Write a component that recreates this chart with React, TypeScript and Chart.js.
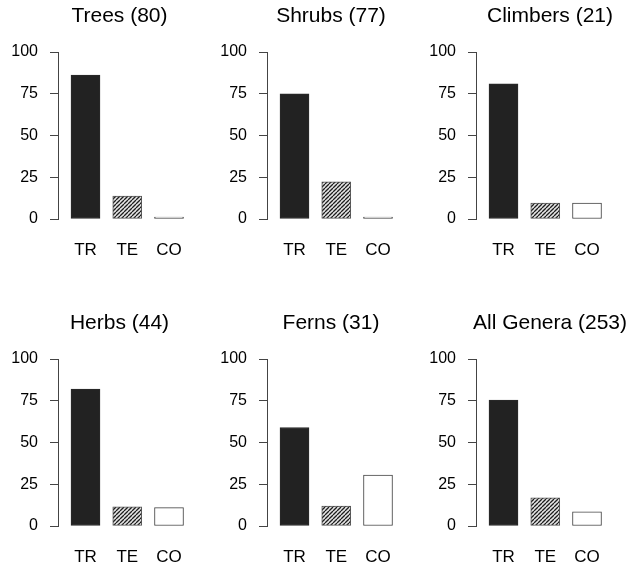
import React, { useEffect, useRef } from 'react';
import { Chart, registerables } from 'chart.js';

Chart.register(...registerables);

// ---------- data ----------
const categories = ['TR', 'TE', 'CO'];
const panelTitles = ['Trees (80)', 'Shrubs (77)', 'Climbers (21)', 'Herbs (44)', 'Ferns (31)', 'All Genera (253)'];
const trees = [86.25, 13.75, 0];
const shrubs = [75, 22.3, 0];
const climbers = [81, 9.5, 9.5];
const herbs = [82, 11.5, 11];
const ferns = [59, 12, 30.5];
const allGenera = [75.4, 16.9, 8.5];
const yTicks = [0, 25, 50, 75, 100];

const panelValues = [trees, shrubs, climbers, herbs, ferns, allGenera];

// ---------- layout / style ----------
const FONT = 'Liberation Sans, Arial, Helvetica, sans-serif';
const colAxisX = [58, 267, 476];
const colTitleX = [119.5, 331, 550];
const rowTop = [0, 307];
const Y_AXIS_W = 58;
const CANVAS_H = 261;
const PLOT_TOP = 52;
const PLOT_BOTTOM = 219;
const UNIT_PX = 41.75; // pixel distance between bar centres
const FIRST_OFFSET = 27.5; // axis line to first bar centre

function makeHatch(): CanvasPattern | string {
  const c = document.createElement('canvas');
  const s = 4;
  c.width = s;
  c.height = s;
  const g = c.getContext('2d');
  if (!g) return '#888';
  g.fillStyle = '#e6e6e6';
  g.fillRect(0, 0, s, s);
  g.strokeStyle = '#1e1e1e';
  g.lineWidth = 1.3;
  g.beginPath();
  for (const k of [-s, 0, s]) {
    g.moveTo(k, s);
    g.lineTo(k + s, 0);
  }
  g.stroke();
  const p = g.createPattern(c, 'repeat');
  return p || '#888';
}

function Panel({ idx }: { idx: number }) {
  const ref = useRef<HTMLCanvasElement | null>(null);
  const col = idx % 3;
  const row = Math.floor(idx / 3);
  const left = colAxisX[col] - Y_AXIS_W;
  const width = Math.round(2 * (colTitleX[col] - left));
  const top = rowTop[row];

  useEffect(() => {
    if (!ref.current) return;
    const values = panelValues[idx];
    const hatch = makeHatch();
    const xMin = -FIRST_OFFSET / UNIT_PX;
    const xMax = xMin + (width - Y_AXIS_W) / UNIT_PX;
    const chart = new Chart(ref.current, {
      type: 'bar',
      data: {
        datasets: [
          {
            data: values.map((v, i) => ({ x: i, y: v })),
            backgroundColor: ['#222222', hatch as any, '#ffffff'],
            borderColor: ['#2a2a2a', '#555555', '#444444'],
            borderWidth: 1,
            borderSkipped: false,
            barThickness: 29,
            minBarLength: 2,
          } as any,
        ],
      },
      options: {
        animation: false,
        responsive: false,
        maintainAspectRatio: false,
        layout: { padding: 0 },
        plugins: {
          legend: { display: false },
          tooltip: { enabled: false },
          title: {
            display: true,
            text: panelTitles[idx],
            color: '#000',
            font: { family: FONT, size: 21, weight: 'normal' as any },
            padding: { top: 4, bottom: PLOT_TOP - 4 - 21 * 1.2 },
          },
        },
        scales: {
          x: {
            type: 'linear',
            min: xMin,
            max: xMax,
            offset: false,
            afterBuildTicks: (s: any) => {
              s.ticks = categories.map((_, i) => ({ value: i }));
            },
            afterFit: (s: any) => {
              s.height = CANVAS_H - PLOT_BOTTOM;
            },
            ticks: {
              callback: (v: any) => categories[Math.round(Number(v))] ?? '',
              color: '#000',
              font: { family: FONT, size: 17 },
              padding: 21,
              autoSkip: false,
              maxRotation: 0,
            },
            grid: { display: false, drawTicks: false },
            border: { display: false },
          },
          y: {
            min: 0,
            max: 100,
            afterBuildTicks: (s: any) => {
              s.ticks = yTicks.map((v) => ({ value: v }));
            },
            afterFit: (s: any) => {
              s.width = Y_AXIS_W;
            },
            ticks: {
              color: '#000',
              font: { family: FONT, size: 16 },
              padding: 12,
            },
            grid: { drawOnChartArea: false, drawTicks: true, tickLength: 8, color: '#444' },
            border: { display: true, color: '#444' },
          },
        },
      } as any,
    });
    return () => chart.destroy();
  }, [idx, width]);

  return (
    <canvas
      ref={ref}
      width={width}
      height={CANVAS_H}
      style={{ position: 'absolute', left, top, width, height: CANVAS_H }}
    />
  );
}

export default function App() {
  return (
    <div
      style={{
        position: 'absolute',
        left: 0,
        top: 0,
        width: 637,
        height: 568,
        overflow: 'hidden',
        background: '#fff',
      }}
    >
      {panelTitles.map((_, i) => (
        <Panel key={i} idx={i} />
      ))}
    </div>
  );
}
